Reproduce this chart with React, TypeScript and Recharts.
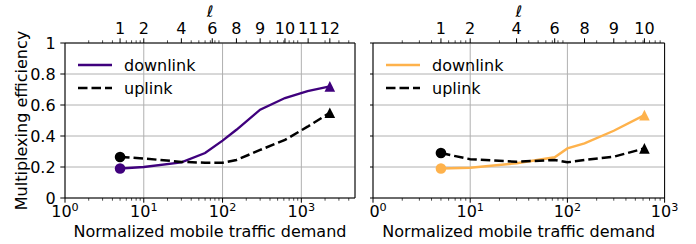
import React from 'react';
import { LineChart, Line, XAxis, YAxis, CartesianGrid, Legend, ReferenceLine } from 'recharts';

const FONT = '"DejaVu Sans", sans-serif';
const PURPLE = '#3f007d';
const ORANGE = '#feb24c';

// left panel
const demandLeft = [5, 10, 30, 60, 100, 150, 300, 620, 1200, 2300];
const downLeft = [0.19, 0.2, 0.23, 0.29, 0.37, 0.44, 0.57, 0.645, 0.69, 0.72];
const upLeft = [0.265, 0.255, 0.233, 0.228, 0.228, 0.245, 0.31, 0.375, 0.46, 0.55];
const ellLeft = [1, 2, 4, 6, 8, 9, 10, 11, 12];
const ellPosLeft = [5, 10, 30, 74, 150, 300, 620, 1220, 2300];

// right panel
const demandRight = [5, 10, 30, 74, 100, 150, 300, 620];
const downRight = [0.19, 0.195, 0.224, 0.263, 0.32, 0.353, 0.434, 0.535];
const upRight = [0.29, 0.25, 0.234, 0.245, 0.23, 0.245, 0.266, 0.32];
const ellRight = [1, 2, 4, 6, 8, 9, 10];
const ellPosRight = [5, 10, 30, 74, 150, 300, 620];

const yTicks = [0, 0.2, 0.4, 0.6, 0.8, 1];
const majorX = [1, 10, 100, 1000];
const gridX = [10, 100, 1000];

const minorTicks = (max: number) => {
  const out: number[] = [];
  for (let k = 0; k < 4; k++) {
    for (let m = 2; m <= 9; m++) {
      const v = m * Math.pow(10, k);
      if (v < max) out.push(v);
    }
  }
  return out;
};

const BottomTick = (p: any) => {
  const { x, y, payload } = p;
  const v = payload.value;
  const major = majorX.includes(v);
  const exp = Math.round(Math.log10(v));
  return (
    <g>
      <line x1={x} x2={x} y1={y} y2={y + (major ? 4.7 : 2.7)} stroke="#000" strokeWidth={major ? 1 : 0.7} />
      {major && (
        <text x={x} y={y + 19} textAnchor="middle" fontSize={16} fontFamily={FONT} fill="#000">
          10<tspan dy={-6.5} fontSize={11.2}>{exp}</tspan>
        </text>
      )}
    </g>
  );
};

const TopTick = (p: any) => {
  const { x, y, payload, pos, labels } = p;
  const i = pos.indexOf(payload.value);
  const major = i >= 0;
  return (
    <g>
      <line x1={x} x2={x} y1={y} y2={y - (major ? 4.7 : 2.7)} stroke="#000" strokeWidth={major ? 1 : 0.7} />
      {major && (
        <text x={x} y={y - 8.8} textAnchor="middle" fontSize={16} fontFamily={FONT} fill="#000">
          {labels[i]}
        </text>
      )}
    </g>
  );
};

const YTick = (p: any) => {
  const { x, y, payload, showLabel } = p;
  const v = payload.value;
  return (
    <g>
      <line x1={x} x2={x - 4.7} y1={y} y2={y} stroke="#000" strokeWidth={1} />
      {showLabel && (
        <text x={x - 9.4} y={y + 5.8} textAnchor="end" fontSize={16} fontFamily={FONT} fill="#000">
          {v === 0 ? '0' : v === 1 ? '1' : v.toFixed(1)}
        </text>
      )}
    </g>
  );
};

const XTitle = (p: any) => {
  const vb = p.viewBox || { x: 65, width: 290 };
  return (
    <text x={vb.x + vb.width / 2} y={237} textAnchor="middle" fontSize={16} fontFamily={FONT} fill="#000">
      Normalized mobile traffic demand
    </text>
  );
};

const TopTitle = (p: any) => {
  const vb = p.viewBox || { x: 65, width: 290 };
  return (
    <text x={vb.x + vb.width / 2} y={17} textAnchor="middle" fontSize={16} fontStyle="italic" fontFamily={FONT} fill="#000">
      ℓ
    </text>
  );
};

const YTitle = (p: any) => {
  const vb = p.viewBox || { y: 43, height: 155 };
  const cx = 21;
  const cy = vb.y + vb.height / 2;
  return (
    <text x={cx} y={cy} transform={`rotate(-90 ${cx} ${cy})`} textAnchor="middle" dominantBaseline="central"
      fontSize={16} fontFamily={FONT} fill="#000">
      Multiplexing efficiency
    </text>
  );
};

const makeDot = (color: string, n: number) => (p: any) => {
  const { cx, cy, index } = p;
  if (index === 0) return <circle key={`c${index}`} cx={cx} cy={cy} r={5.3} fill={color} />;
  if (index === n - 1) {
    const s = 5.3;
    return <path key={`t${index}`} d={`M${cx},${cy - s}L${cx - s},${cy + s}L${cx + s},${cy + s}Z`} fill={color} />;
  }
  return <g key={`n${index}`} />;
};

const LegendBox = ({ color }: { color: string }) => (
  <div style={{ fontFamily: FONT, fontSize: 16, color: '#000' }}>
    {[
      { name: 'downlink', stroke: color, dash: undefined, w: 2.4 },
      { name: 'uplink', stroke: '#000', dash: '9.5 4', w: 2.5 },
    ].map((it) => (
      <div key={it.name} style={{ display: 'flex', alignItems: 'center', height: 23 }}>
        <svg width={34} height={6} style={{ display: 'block' }}>
          <line x1={0} y1={3} x2={34} y2={3} stroke={it.stroke} strokeWidth={it.w} strokeDasharray={it.dash} />
        </svg>
        <span style={{ marginLeft: 12, lineHeight: '23px', whiteSpace: 'nowrap' }}>{it.name}</span>
      </div>
    ))}
  </div>
);

interface PanelProps {
  width: number;
  yWidth: number;
  right: number;
  xMax: number;
  demand: number[];
  down: number[];
  up: number[];
  color: string;
  ellPos: number[];
  ell: number[];
  showY: boolean;
  legendLeft: number;
}

const Panel: React.FC<PanelProps> = ({ width, yWidth, right, xMax, demand, down, up, color, ellPos, ell, showY, legendLeft }) => {
  const data = demand.map((d, i) => ({ d, down: down[i], up: up[i] }));
  const minors = minorTicks(xMax);
  const bottomTicks = [...majorX.filter((v) => v <= xMax), ...minors];
  const topTicks = [...ellPos, ...minors.filter((v) => !ellPos.includes(v))];
  return (
    <LineChart width={width} height={244} data={data} margin={{ top: 0, right, bottom: 0, left: 0 }}
      style={{ fontFamily: FONT }}>
      <XAxis xAxisId="grid" dataKey="d" type="number" scale="log" domain={[1, xMax]} allowDataOverflow
        ticks={gridX.filter((v) => v < xMax)} hide />
      <CartesianGrid xAxisId="grid" stroke="#b0b0b0" strokeWidth={1} />
      <XAxis dataKey="d" type="number" scale="log" domain={[1, xMax]} allowDataOverflow ticks={bottomTicks}
        interval={0} tickSize={0} tickMargin={0} height={46} axisLine={{ stroke: '#000', strokeWidth: 1 }}
        tick={(p: any) => <BottomTick {...p} />} label={<XTitle />} />
      <XAxis xAxisId="top" orientation="top" dataKey="d" type="number" scale="log" domain={[1, xMax]}
        allowDataOverflow ticks={topTicks} interval={0} tickSize={0} tickMargin={0} height={43}
        axisLine={{ stroke: '#000', strokeWidth: 1 }}
        tick={(p: any) => <TopTick {...p} pos={ellPos} labels={ell} />} label={<TopTitle />} />
      <YAxis type="number" domain={[0, 1]} ticks={yTicks} interval={0} width={yWidth} tickSize={0} tickMargin={0}
        axisLine={{ stroke: '#000', strokeWidth: 1 }}
        tick={(p: any) => <YTick {...p} showLabel={showY} />} label={showY ? <YTitle /> : undefined} />
      <ReferenceLine x={xMax} stroke="#000" strokeWidth={1} />
      <Line type="linear" dataKey="down" name="downlink" stroke={color} strokeWidth={2.4}
        dot={makeDot(color, data.length)} activeDot={false} isAnimationActive={false} />
      <Line type="linear" dataKey="up" name="uplink" stroke="#000" strokeWidth={2.5} strokeDasharray="9.5 4"
        dot={makeDot('#000', data.length)} activeDot={false} isAnimationActive={false} />
      <Legend content={() => <LegendBox color={color} />} layout="vertical" align="center" verticalAlign="middle"
        wrapperStyle={{ left: legendLeft, top: 53.5, width: 'auto', height: 'auto' }} />
    </LineChart>
  );
};

export default function App() {
  return (
    <div style={{ position: 'absolute', left: 0, top: 0, width: 696, height: 244, background: '#fff', overflow: 'hidden' }}>
      <div style={{ position: 'absolute', left: 0, top: 0 }}>
        <Panel width={360} yWidth={65} right={5} xMax={4800} demand={demandLeft} down={downLeft} up={upLeft}
          color={PURPLE} ellPos={ellPosLeft} ell={ellLeft} showY legendLeft={78} />
      </div>
      <div style={{ position: 'absolute', left: 370, top: 0, width: 326, height: 244, overflow: 'hidden' }}>
        <div style={{ position: 'absolute', left: -24, top: 0 }}>
          <Panel width={350} yWidth={27} right={31.4} xMax={1000} demand={demandRight} down={downRight} up={upRight}
            color={ORANGE} ellPos={ellPosRight} ell={ellRight} showY={false} legendLeft={40} />
        </div>
      </div>
    </div>
  );
}
